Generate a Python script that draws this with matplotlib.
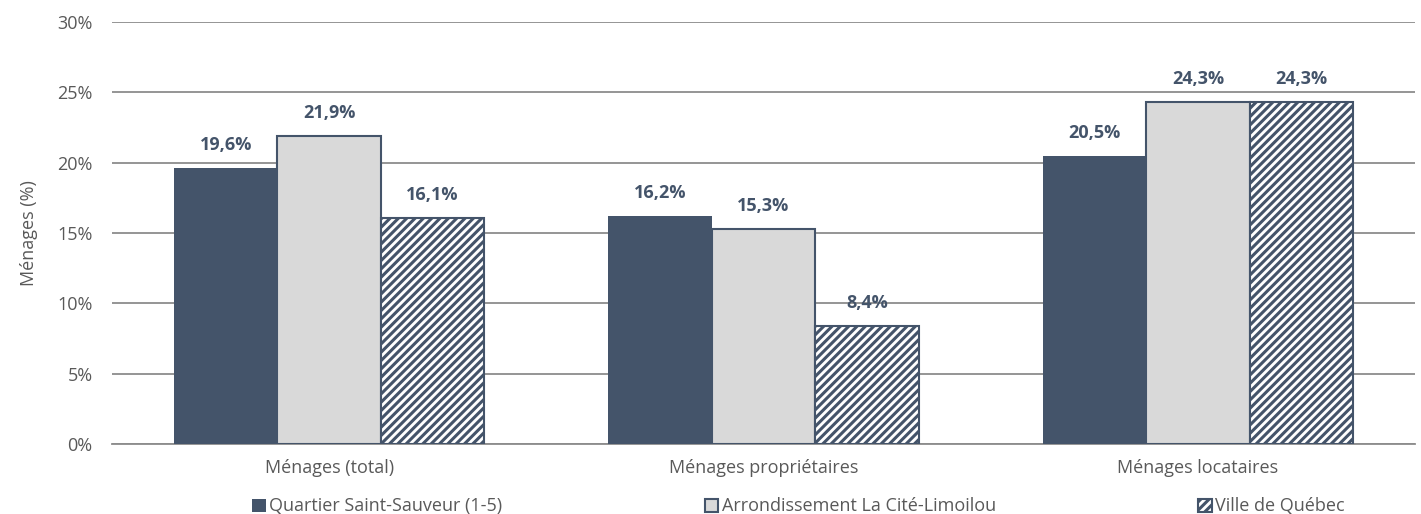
import numpy as np
import matplotlib
matplotlib.use("Agg")
import matplotlib.pyplot as plt

plt.rcParams["font.family"] = ["Open Sans", "DejaVu Sans"]
plt.rcParams["hatch.linewidth"] = 2.2

categories = ["Ménages (total)", "Ménages propriétaires", "Ménages locataires"]
series_names = ["Quartier Saint-Sauveur (1-5)", "Arrondissement La Cité-Limoilou", "Ville de Québec"]
saint_sauveur = [19.6, 16.2, 20.5]
cite_limoilou = [21.9, 15.3, 24.3]
ville_quebec = [16.1, 8.4, 24.3]
yticks = [0, 5, 10, 15, 20, 25, 30]

DARK = "#44546A"
LIGHT = "#D9D9D9"
TXT = "#595959"

fig = plt.figure(figsize=(14.21, 5.14), dpi=100)
ax = fig.add_axes([0.0788, 0.1362, 0.917, 0.8208])

x = np.arange(len(categories))
w = 0.238
styles = [
    dict(color=DARK, edgecolor=DARK, linewidth=0),
    dict(color=LIGHT, edgecolor=DARK, linewidth=1.5),
    dict(color="white", edgecolor=DARK, linewidth=1.5, hatch="////"),
]
for i, (vals, name, st) in enumerate(zip([saint_sauveur, cite_limoilou, ville_quebec], series_names, styles)):
    bars = ax.bar(x + (i - 1) * w, vals, w, label=name, zorder=3, **st)
    for b, v in zip(bars, vals):
        ax.annotate(f"{v:.1f}%".replace(".", ","), (b.get_x() + b.get_width() / 2, v),
                    xytext=(0, 10), textcoords="offset points", ha="center", va="bottom",
                    fontsize=13, fontweight="bold", color=DARK)

ax.set_xlim(-0.5, 2.5)
ax.set_ylim(0, 30)
ax.set_yticks(yticks)
ax.set_yticklabels([f"{t}%" for t in yticks])
ax.set_xticks(x)
ax.set_xticklabels(categories)
ax.tick_params(length=0, labelsize=13, colors=TXT, pad=11)
ax.tick_params(axis="y", pad=14)
ax.grid(axis="y", color="#8C8C8C", linewidth=1.3, zorder=0)
for s in ["top", "right", "left"]:
    ax.spines[s].set_visible(False)
ax.spines["bottom"].set_color("#8C8C8C")
ax.spines["bottom"].set_linewidth(1.3)
ax.set_ylabel("Ménages (%)", fontsize=13, color=TXT, labelpad=14)

leg = ax.legend(loc="center", bbox_to_anchor=(0.527, -0.148), ncol=3, frameon=False,
                fontsize=13, handlelength=0.75, handleheight=0.75, handletextpad=0.2,
                columnspacing=11.2, borderpad=0.2)
for t in leg.get_texts():
    t.set_color(TXT)

fig.savefig("out.png", dpi=100)
